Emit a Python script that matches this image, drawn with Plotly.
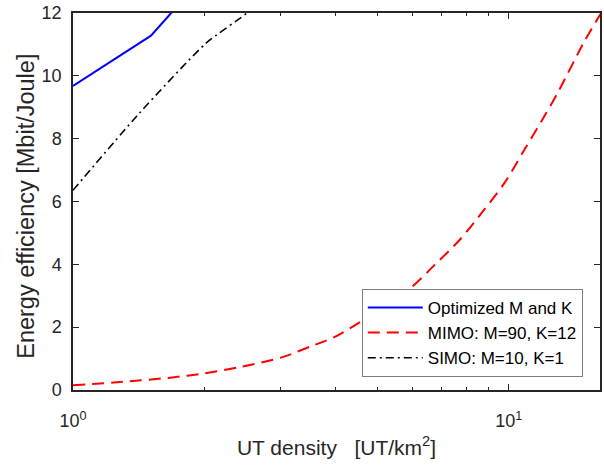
import numpy as np
import plotly.graph_objects as go

# UT density [UT/km^2]
opt_x = [1.0, 1.51, 1.68, 2.0]
opt_y = [9.68, 11.28, 12.0, 13.2]

mimo_x = [1.0, 1.3, 1.69, 2.0, 2.44, 3.0, 3.53, 4.0, 4.59, 5.92, 6.77, 7.73, 8.73,
          9.79, 10.88, 12.08, 13.0, 14.92, 16.3]
mimo_y = [0.15, 0.26, 0.40, 0.53, 0.74, 1.03, 1.40, 1.70, 2.19, 3.22, 3.99, 4.79, 5.69,
          6.60, 7.66, 8.72, 9.50, 11.10, 12.0]

simo_x = [1.0, 1.42, 2.02, 2.51, 3.0]
simo_y = [6.36, 8.81, 11.04, 12.0, 12.9]

names = ["Optimized M and K", "MIMO: M=90, K=12", "SIMO: M=10, K=1"]
ytick_vals = [0, 2, 4, 6, 8, 10, 12]
xtick_vals = [1, 10]
xtick_text = ["10<sup>0</sup>", "10<sup>1</sup>"]
x_max = 16.2
y_title = "Energy efficiency [Mbit/Joule]"
x_title = "UT density   [UT/km<sup>2</sup>]"

FONT = "Liberation Sans, Arial, sans-serif"
AX = "#262626"

fig = go.Figure()
fig.add_trace(go.Scatter(x=opt_x, y=opt_y, mode="lines", name=names[0],
                         line=dict(color="#0000FF", width=2)))
fig.add_trace(go.Scatter(x=mimo_x, y=mimo_y, mode="lines", name=names[1],
                         line=dict(color="#FF0000", width=2, dash="12px,7px",
                                   shape="spline", smoothing=0.8)))
fig.add_trace(go.Scatter(x=simo_x, y=simo_y, mode="lines", name=names[2],
                         line=dict(color="#000000", width=1.6, dash="8px,4px,2px,4px",
                                   shape="spline", smoothing=0.6)))

fig.update_layout(
    width=604, height=470,
    margin=dict(l=73, r=2, t=13, b=80),
    paper_bgcolor="white", plot_bgcolor="white",
    font=dict(family=FONT, color=AX, size=18),
    showlegend=True,
    legend=dict(x=0.548, y=0.268, xanchor="left", yanchor="top",
                bgcolor="white", bordercolor="#7f7f7f", borderwidth=1,
                font=dict(size=17, color="#000000"), itemwidth=55),
    annotations=[dict(text=y_title, xref="paper", yref="paper",
                      x=-0.0907, y=0.4865, xanchor="center", yanchor="middle",
                      textangle=-90, showarrow=False,
                      font=dict(size=23.5, color=AX, family=FONT))],
)
fig.update_xaxes(
    type="log", range=[0, np.log10(x_max)],
    tickvals=xtick_vals, ticktext=xtick_text,
    ticks="inside", ticklen=6, tickwidth=1.2, tickcolor=AX,
    minor=dict(ticks="inside", ticklen=3, tickcolor=AX,
               tickvals=[2, 3, 4, 5, 6, 7, 8, 9, 20]),
    showline=True, linecolor=AX, linewidth=1.5, mirror="ticks",
    showgrid=False, zeroline=False,
    tickfont=dict(size=18), ticklabelstandoff=14,
    title=dict(text=x_title, font=dict(size=21), standoff=10),
)
fig.update_yaxes(
    range=[0, 12], tickvals=ytick_vals,
    ticks="inside", ticklen=6, tickwidth=1.2, tickcolor=AX,
    showline=True, linecolor=AX, linewidth=1.5, mirror="ticks",
    showgrid=False, zeroline=False,
    tickfont=dict(size=18), ticklabelstandoff=6,
)

fig.write_html("out.html")
